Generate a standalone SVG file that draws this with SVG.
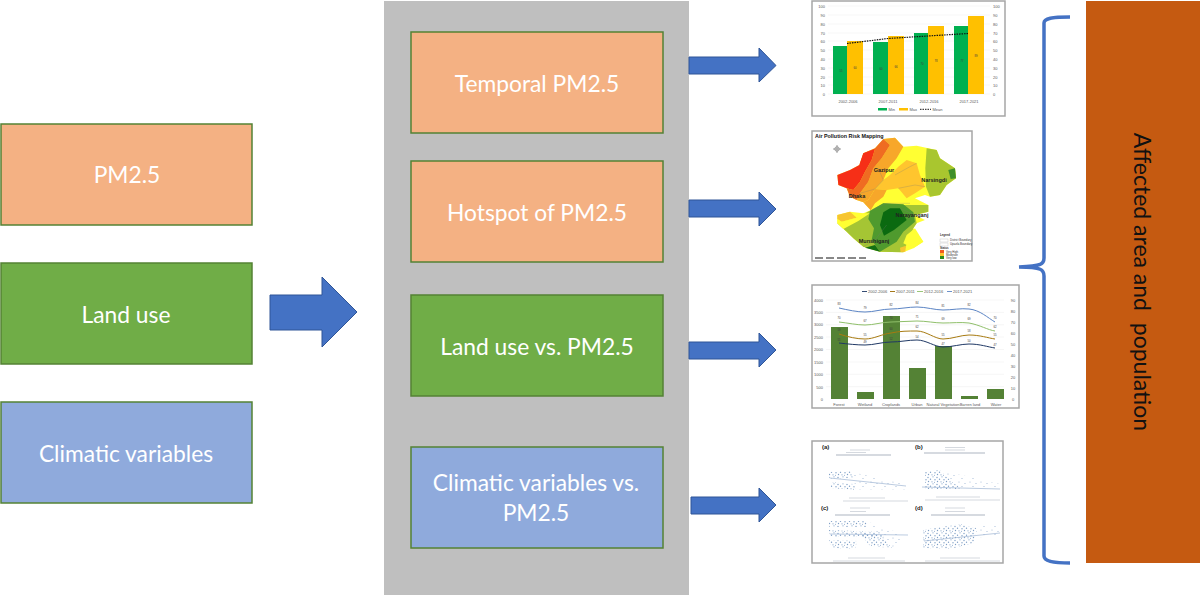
<svg xmlns="http://www.w3.org/2000/svg" width="1200" height="595" viewBox="0 0 1200 595">
<defs>
<pattern id="speck" width="9" height="7" patternUnits="userSpaceOnUse">
<g fill="#7f9fc6"><circle cx="1" cy="1.500" r=".7"/><circle cx="3.500" cy="3.200" r=".7"/><circle cx="6" cy=".8" r=".6"/><circle cx="8" cy="3.800" r=".7"/><circle cx="1.500" cy="5.500" r=".7"/><circle cx="5" cy="5.800" r=".6"/><circle cx="7.500" cy="6.300" r=".5"/></g>
</pattern>
<pattern id="sparse" width="11" height="8" patternUnits="userSpaceOnUse">
<g fill="#9fb7d4"><circle cx="2" cy="2" r=".6"/><circle cx="8" cy="3.500" r=".6"/><circle cx="5" cy="6.500" r=".6"/></g>
</pattern>
<style>
.t{font-family:"Lato","Open Sans","Liberation Sans",sans-serif;font-size:22.8px;fill:#fff;text-anchor:middle}
.o{fill:#f4b183;stroke:#548235;stroke-width:1.5}
.g{fill:#70ad47;stroke:#548235;stroke-width:1.5}
.b{fill:#8faadc;stroke:#548235;stroke-width:1.5}
.ar{fill:#4472c4;stroke:#2f5597;stroke-width:1}
.fr{fill:#fff;stroke:#a6a6a6;stroke-width:1.5}
.s{font-family:"Liberation Sans",Arial,sans-serif;font-size:4px;fill:#595959}
.d{font-family:"Liberation Sans",Arial,sans-serif;font-size:2.8px;fill:#404040;text-anchor:middle}
.m{text-anchor:middle}
.e{text-anchor:end}
.k{font-family:"Liberation Sans",Arial,sans-serif;font-size:5.5px;font-weight:bold;fill:#222;text-anchor:middle}
</style>
</defs>
<rect width="1200" height="595" fill="#fff"/>
<rect id="panel" x="384" y="1" width="305" height="594" fill="#bfbfbf"/>
<g id="node-pm25"><rect class="o" x="1" y="124" width="251" height="101"/><text class="t" x="127" y="183">PM2.5</text></g>
<g id="node-landuse"><rect class="g" x="1" y="263" width="251" height="101"/><text class="t" x="126" y="323">Land use</text></g>
<g id="node-climatic"><rect class="b" x="1" y="402" width="251" height="101"/><text class="t" x="126" y="462">Climatic variables</text></g>
<g id="node-temporal"><rect class="o" x="411" y="32" width="252" height="101"/><text class="t" x="537" y="92">Temporal PM2.5</text></g>
<g id="node-hotspot"><rect class="o" x="411" y="161" width="252" height="101"/><text class="t" x="537" y="221">Hotspot of PM2.5</text></g>
<g id="node-lu-pm"><rect class="g" x="411" y="295" width="252" height="101"/><text class="t" x="537" y="355">Land use vs. PM2.5</text></g>
<g id="node-cl-pm"><rect class="b" x="411" y="447" width="252" height="101"/><text class="t" x="536" y="491">Climatic variables vs.</text><text class="t" x="536" y="521">PM2.5</text></g>
<g id="connectors">
<path class="ar" d="M270 295H322V277L357 312L322 347V330H270Z"/>
<path class="ar" d="M689 57H759V48L776 65.500L759 82V74H689Z"/>
<path class="ar" d="M689 200H759V192L776 209L759 226V217H689Z"/>
<path class="ar" d="M689 342H759V333L776 350L759 367V359H689Z"/>
<path class="ar" d="M691 497H759V488L776 505L759 522V514H691Z"/>
<path d="M1070 17C1052 17 1044 18 1044 23V258C1044 264 1042 266 1019 267C1042 267 1044 270 1044 276V556C1044 561 1052 563 1070 563" fill="none" stroke="#4472c4" stroke-width="3.500"/>
</g>
<g id="chart-temporal">
<rect class="fr" x="812" y="1" width="193" height="115"/>
<g stroke="#ececec" stroke-width=".5"><path d="M828 6H990M828 15H990M828 24H990M828 33H990M828 41H990M828 50H990M828 59H990M828 68H990M828 77H990M828 85H990M828 94H990"/></g>
<g fill="#00b050"><rect x="833" y="46" width="14" height="48"/><rect x="873" y="42" width="15" height="52"/><rect x="914" y="33" width="14" height="61"/><rect x="954" y="26" width="14" height="68"/></g>
<g fill="#ffc000"><rect x="847" y="41" width="16" height="53"/><rect x="888" y="36" width="16" height="58"/><rect x="928" y="26" width="16" height="68"/><rect x="968" y="16" width="16" height="78"/></g>
<path d="M847 43.500L888 38.500L928 36L968 33.500" fill="none" stroke="#111" stroke-width="1.200" stroke-dasharray="1.500 1"/>
<g class="s e"><text x="825" y="8">100</text><text x="825" y="17">90</text><text x="825" y="26">80</text><text x="825" y="35">70</text><text x="825" y="43">60</text><text x="825" y="52">50</text><text x="825" y="61">40</text><text x="825" y="70">30</text><text x="825" y="79">20</text><text x="825" y="87">10</text><text x="825" y="96">0</text></g>
<g class="s"><text x="993" y="8">100</text><text x="993" y="17">90</text><text x="993" y="26">80</text><text x="993" y="35">70</text><text x="993" y="43">60</text><text x="993" y="52">50</text><text x="993" y="61">40</text><text x="993" y="70">30</text><text x="993" y="79">20</text><text x="993" y="87">10</text><text x="993" y="96">0</text></g>
<g class="s m"><text x="848" y="102.500">2002-2006</text><text x="888" y="102.500">2007-2011</text><text x="929" y="102.500">2012-2016</text><text x="969" y="102.500">2017-2021</text></g>
<g class="d"><text x="841" y="71.500">55</text><text x="855" y="68.500">60</text><text x="881" y="69.500">60</text><text x="896" y="67.500">66</text><text x="922" y="64.500">70</text><text x="936" y="61.500">78</text><text x="962" y="61.500">77</text><text x="976" y="56.500">89</text></g>
<rect x="878" y="108" width="9" height="2.500" fill="#00b050"/><text class="s" x="888.500" y="110.800">Min</text>
<rect x="899" y="108" width="9" height="2.500" fill="#ffc000"/><text class="s" x="909.500" y="110.800">Max</text>
<path d="M920 109.300H931" stroke="#111" stroke-dasharray="1.500 1"/><text class="s" x="932.500" y="110.800">Mean</text>
</g>
<g id="chart-map">
<rect class="fr" x="812" y="131" width="160" height="130"/>
<text x="815" y="137.500" font-family="Liberation Sans,Arial,sans-serif" font-size="5.400" font-weight="bold" fill="#111">Air Pollution Risk Mapping</text>
<path d="M837 145v8M833 149h8" stroke="#777" stroke-width=".7"/><circle cx="837" cy="149" r="2.200" fill="none" stroke="#777" stroke-width=".7"/>
<g transform="translate(800 125) scale(.3333)">
<path fill="#ffff33" d="M112 150L150 135L178 120L190 85L225 70L250 42L285 38L310 65L350 62L385 70L410 75L420 100L465 130L468 160L440 180L420 210L390 215L375 210L345 220L385 240L385 260L345 270L375 285L350 295L340 310L370 350L340 370L310 382L240 380L190 365L160 340L140 320L112 295L112 270L150 260L190 265L212 256L190 232L170 225L150 215L140 190L115 180Z"/>
<path fill="#a9c62f" d="M380 70L410 75L420 100L465 130L468 160L440 180L420 210L390 215L378 185L376 130Z"/>
<path fill="#3f8f2a" d="M445 135L465 130L468 160L452 162Z"/>
<path fill="#ffc52e" d="M295 125L320 105L350 115L360 150L375 185L345 205L320 220L295 190L260 195L225 192L250 165L270 150Z"/>
<path fill="#f7a72a" d="M190 232L205 225L225 192L260 195L250 215L225 235L212 256Z"/>
<path fill="#f7a72a" d="M250 42L285 38L310 65L290 100L265 130L250 165L225 192L205 225L190 232L170 225L180 205L205 170L220 130L245 100L270 60Z"/>
<path fill="#ef6c22" d="M178 120L190 85L225 70L250 42L270 60L245 100L220 130L205 170L180 205L170 225L150 215L140 190L160 195L180 170L195 140L215 105L225 72Z"/>
<path fill="#f62f17" d="M178 120L190 85L225 72L215 105L195 140L180 170L160 195L140 190L115 180L112 150L150 135Z"/>
<path fill="#a5c534" d="M112 295L170 280L212 256L250 235L310 240L385 240L385 260L345 270L350 295L340 310L310 382L240 380L190 365L160 340L140 320Z"/>
<path fill="#f7c530" d="M112 270L150 260L170 278L125 290L112 282Z"/>
<path fill="#ffff33" d="M112 282L125 290L170 278L190 265L210 265L175 288L130 312L112 295Z"/>
<path fill="#4f9a2e" d="M210 258L250 235L310 238L340 262L345 290L310 320L290 350L240 380L215 345L222 310L205 282Z"/>
<path fill="#0b6a10" d="M250 262L270 250L300 250L320 285L282 315L252 332L240 300Z"/>
<path fill="#146f14" d="M195 368L225 360L240 380Z"/>
<path fill="#ffff33" d="M320 330L345 310L370 350L340 370L310 355Z"/>
<path fill="#f7c530" d="M300 368L318 362L316 380L302 381Z"/>
<path fill="none" stroke="#777" stroke-width=".8" d="M180 205L225 192M235 130L250 165L225 192M285 150L330 125L350 115M295 190L345 180L375 185M215 255L260 235L330 235M260 300L225 345L190 365M300 250L345 270"/>
</g>
<g class="k"><text x="884" y="172">Gazipur</text><text x="934" y="182">Narsingdi</text><text x="857" y="198">Dhaka</text><text x="912" y="217">Narayanganj</text><text x="874" y="243">Munshiganj</text></g>
<g font-family="Liberation Sans,Arial,sans-serif" font-size="2.800" fill="#333"><text x="940" y="236" font-weight="bold">Legend</text><text x="950" y="241">District Boundary</text><text x="950" y="245">Upazila Boundary</text><text x="940" y="249" font-weight="bold">Status</text><text x="946" y="252.500">Very High</text><text x="946" y="255.500">Moderate</text><text x="946" y="258.500">Very low</text></g>
<rect x="940" y="239" width="8" height="3" fill="#fff" stroke="#aaa" stroke-width=".3"/><rect x="940" y="243" width="8" height="3" fill="#fff" stroke="#aaa" stroke-width=".3"/>
<rect x="940" y="250" width="4" height="3" fill="#f05a20"/><rect x="940" y="253" width="4" height="3" fill="#ffc52e"/><rect x="940" y="256" width="4" height="3" fill="#2c8a1c"/>
<path d="M815 258H866" stroke="#111" stroke-width="1" stroke-dasharray="8 3"/>
</g>
<g id="chart-landuse">
<rect class="fr" x="812" y="285" width="207" height="123"/>
<g class="s"><text x="868" y="293">2002-2006</text><text x="896" y="293">2007-2011</text><text x="924" y="293">2012-2016</text><text x="953" y="293">2017-2021</text></g>
<g stroke-width=".9"><path d="M862 291.500H867" stroke="#1f3864"/><path d="M890 291.500H895" stroke="#9c6a00"/><path d="M917 291.500H923" stroke="#8fbf6a"/><path d="M947 291.500H952" stroke="#5b84c4"/></g>
<g stroke="#ececec" stroke-width=".5"><path d="M826 300H1004M826 312.400H1004M826 324.800H1004M826 337H1004M826 349.500H1004M826 362H1004M826 374.300H1004M826 386.700H1004"/></g>
<g fill="#548235"><rect x="831" y="327" width="17" height="72"/><rect x="857" y="392" width="17" height="7"/><rect x="883" y="316" width="17" height="83"/><rect x="909" y="368" width="17" height="31"/><rect x="935" y="346" width="17" height="53"/><rect x="961" y="396" width="17" height="3"/><rect x="987" y="389" width="17" height="10"/></g>
<g fill="none" stroke-width="1">
<path stroke="#5b84c4" d="M839 308C848 310 857 312 865 312C874 312 882 309 891 309C900 309 908 307 917 307C926 307 935 310 943 310C952 310 961 308 969 309C980 310 988 318 995 322"/>
<path stroke="#8fbf6a" d="M839 322C848 323 857 325 865 325C874 325 882 322 891 322C900 322 908 321 917 321C926 321 935 323 943 323C952 323 961 322 969 323C980 325 988 330 995 331"/>
<path stroke="#a77a10" d="M839 334C848 337 857 339 865 339C874 339 882 334 891 333C900 331 908 331 917 331C926 331 935 339 943 339C952 339 961 335 969 335C980 335 988 338 995 339"/>
<path stroke="#1f3864" d="M839 343C848 344 857 345 865 345C874 345 882 342 891 342C900 342 908 340 917 340C926 340 935 347 943 347C952 347 961 344 969 344C980 344 988 347 995 348"/>
</g>
<g class="d"><text x="839" y="305">83</text><text x="865" y="309">79</text><text x="891" y="306">82</text><text x="917" y="304">84</text><text x="943" y="307">81</text><text x="969" y="306">82</text><text x="995" y="319">70</text>
<text x="839" y="319">70</text><text x="865" y="322">67</text><text x="891" y="319">70</text><text x="917" y="318">71</text><text x="943" y="320">69</text><text x="969" y="320">69</text><text x="995" y="328">62</text>
<text x="839" y="331">59</text><text x="865" y="336">55</text><text x="891" y="330">60</text><text x="917" y="328">62</text><text x="943" y="336">55</text><text x="969" y="332">58</text><text x="995" y="336">55</text>
<text x="839" y="341">51</text><text x="865" y="343">49</text><text x="891" y="340">52</text><text x="917" y="338">54</text><text x="943" y="345">47</text><text x="969" y="342">50</text><text x="995" y="346">47</text></g>
<g class="s e"><text x="823" y="301.500">4000</text><text x="823" y="314">3500</text><text x="823" y="326">3000</text><text x="823" y="339">2500</text><text x="823" y="351">2000</text><text x="823" y="364">1500</text><text x="823" y="376">1000</text><text x="823" y="389">500</text><text x="823" y="401">0</text></g>
<g class="s m"><text x="1013" y="302">90</text><text x="1013" y="313">80</text><text x="1013" y="324">70</text><text x="1013" y="335">60</text><text x="1013" y="346">50</text><text x="1013" y="357">40</text><text x="1013" y="368">30</text><text x="1013" y="379">20</text><text x="1013" y="390">10</text><text x="1013" y="401">0</text></g>
<g class="s m"><text x="839" y="406">Forest</text><text x="865" y="406">Wetland</text><text x="891" y="406">Croplands</text><text x="917" y="406">Urban</text><text x="943" y="406">Natural Vegetation</text><text x="970" y="406">Barren land</text><text x="996" y="406">Water</text></g>
</g>
<g id="chart-scatter">
<rect class="fr" x="812" y="441" width="191" height="122"/>
<g font-family="Liberation Sans,Arial,sans-serif" font-size="6" font-weight="bold" fill="#222"><text x="822" y="449">(a)</text><text x="915" y="449">(b)</text><text x="821" y="510">(c)</text><text x="915" y="510">(d)</text></g>
<g fill="url(#speck)">
<path d="M829 472L852 471L853 478L829 479Z"/><path d="M830 482L854 484L856 490L831 488Z"/>
<path d="M925 472L940 470L952 482L962 489H925Z"/>
<path d="M829 521L866 521L868 527L829 527Z"/><path d="M829 530L880 532L884 537L830 537Z"/><path d="M829 540L857 541L855 549L831 548Z"/><path d="M860 533L882 536L892 548L870 546Z"/>
<path d="M923 530L960 524L976 528L974 543L950 549L923 548Z"/>
</g>
<g fill="url(#sparse)">
<path d="M852 472L905 484L905 490L856 490Z"/><path d="M940 470L1000 484V489H962Z"/><path d="M866 521L905 535L892 548Z"/><path d="M976 526L1001 526V535L976 538Z"/>
</g>
<g fill="none" stroke="#9db5d2" stroke-width=".7"><path d="M830 478L906 486"/><path d="M922 487L1000 489"/><path d="M830 534L908 535"/><path d="M924 541L1000 533"/></g>
<g stroke="#8a97a8" stroke-width=".7" fill="none"><path d="M836 455H891M924 453H985M835 515H890M931 515H985"/></g>
<g stroke="#c3c9d1" stroke-width=".7" fill="none"><path d="M850 450H870M846 452.500H866M945 447.500H965M945 450H965M850 508H870M850 511.500H866M945 508H965M945 511.500H965M849 498H885M843 501H908M936 497H980M925 500H1000M848 558H885M833 561H905M940 558H980M925 561H1000"/></g>
</g>
<g id="node-affected">
<rect x="1086" y="1" width="114" height="562" fill="#c55a11"/>
<text transform="translate(1134 282) rotate(90)" font-family="Lato,'Open Sans','Liberation Sans',sans-serif" font-size="23" fill="#111" text-anchor="middle" xml:space="preserve">Affected area and  population</text>
</g>
</svg>
